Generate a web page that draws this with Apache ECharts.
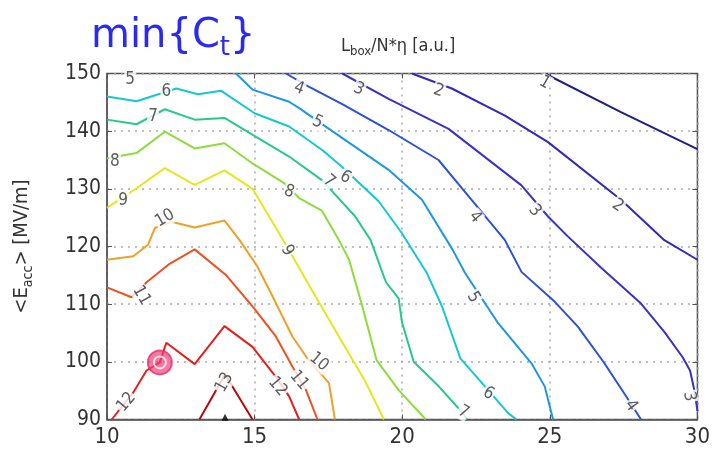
<!DOCTYPE html>
<html>
<head>
    <meta charset="utf-8">
    <title>min Ct contour</title>
    <script src="https://cdn.jsdelivr.net/npm/echarts@6/dist/echarts.min.js"></script>
</head>
<body style="margin:0;background:#fff">
    <div id="main" style="width:713px;height:453px"></div>
    <script type="text/javascript">
        // contour lines, [x, y] pairs (x = 10..30, y = <Eacc> MV/m)
        var c1 = [[24.83, 150], [27.41, 143.3], [30, 136.9]];
        var c2 = [[20.33, 150], [21.68, 147.4], [23.48, 142.7], [24.94, 138.1], [27.41, 128.1], [28.88, 121.1], [30, 117.7]];
        var c3 = [[17.97, 150], [19.54, 145.6], [21.57, 140.4], [24.04, 130.6], [24.94, 125.2], [25.6, 121.8], [26.74, 116.3],
            [28.09, 110.1], [28.88, 105.2], [29.5, 100.8], [29.75, 98.5], [29.9, 95], [30, 91.5]];
        var c4 = [[16.06, 150], [16.85, 147.7], [18.0, 144.6], [19.54, 140.2], [21.23, 135.0], [22.35, 128.1], [23.48, 121.1],
            [24.04, 115.6], [25.17, 110.4], [25.95, 106.1], [26.85, 99.75], [27.64, 93.6], [28.09, 90]];
        var c5 = [[14.37, 150], [14.93, 147.2], [16.17, 145.1], [16.51, 144.0], [17.63, 140.0], [19.54, 133.3], [20.67, 128.1],
            [21.7, 119.5], [22.13, 115.4], [23.25, 106.7], [24.38, 99.75], [24.83, 95.7], [25.11, 90]];
        var c6 = [[10, 146.0], [11.0, 145.2], [12.35, 147.4], [13.08, 146.4], [13.87, 147.0], [15.0, 143.1], [16.17, 140.8],
            [17.3, 136.7], [17.97, 133.8], [19.21, 127.8], [19.99, 122.3], [20.84, 115.35], [21.35, 109.6], [21.97, 100.6],
            [22.81, 95.7], [23.59, 91.1], [23.87, 90]];
        var c7 = [[10, 142.0], [11.0, 141.2], [11.96, 143.8], [12.97, 142.0], [13.98, 142.3], [15.05, 139.0], [16.17, 135.6],
            [17.28, 131.5], [18.41, 125.2], [18.93, 121.1], [19.45, 113.8], [19.88, 111.0], [19.99, 106.9], [20.39, 100.0],
            [21.23, 95.8], [22.02, 91.3], [22.2, 90]];
        var c8 = [[10, 135.3], [11.0, 136.2], [11.96, 139.9], [12.97, 137.0], [13.98, 137.9], [14.93, 134.4], [16.0, 131.0],
            [16.51, 128.4], [17.28, 126.2], [17.86, 121.1], [18.2, 117.7], [18.65, 109.6], [19.13, 100.3], [19.88, 95.1], [20.8, 90]];
        var c9 = [[10, 126.7], [11.0, 130.1], [11.96, 133.6], [12.97, 130.7], [13.98, 133.2], [14.93, 130.0], [16.06, 120.3],
            [17.07, 111.3], [17.97, 103.4], [18.76, 96.5], [19.38, 90]];
        var c10 = [[10, 117.7], [10.89, 118.3], [11.39, 120.3], [11.62, 123.2], [12.18, 124.3], [12.97, 123.3], [13.98, 124.5],
            [14.49, 121.1], [15.1, 116.5], [15.72, 110.2], [16.28, 104.4], [16.8, 100.5], [17.52, 96.3], [17.72, 90]];
        var c11 = [[10, 112.9], [10.83, 111.2], [11.34, 113.8], [12.12, 117.0], [12.97, 119.5], [14.04, 115.0], [14.93, 109.6],
            [15.72, 104.4], [16.28, 99.2], [16.74, 95.1], [17.13, 90]];
        var c12 = [[10.16, 90], [10.89, 94.7], [11.34, 98.5], [11.79, 99.9], [12.01, 103.3], [12.97, 99.6], [13.98, 106.2],
            [14.93, 102.6], [15.72, 97.4], [16.17, 94.0], [16.51, 90]];
        var c13 = [[13.13, 90], [14.0, 97.8], [14.93, 90]];

        var levels = [1, 2, 3, 4, 5, 6, 7, 8, 9, 10, 11, 12, 13];
        var contours = [c1, c2, c3, c4, c5, c6, c7, c8, c9, c10, c11, c12, c13];
        var levelColors = ['#1e1e8c', '#3228be', '#3a32c8', '#2c52dc', '#1e96e6', '#14c8d2', '#28c88c', '#8cdc3c',
            '#e6e61e', '#f0a028', '#f05020', '#e61e1e', '#b40a0a'];

        // inline contour labels: [x, y, level]
        var labelPts = [[24.83, 148.4, 1], [21.23, 147.0, 2], [27.3, 127.1, 2], [18.53, 147.3, 3], [24.49, 126.2, 3],
            [29.72, 94.0, 3], [16.51, 147.4, 4], [22.47, 125.1, 4], [27.75, 92.4, 4], [10.78, 148.9, 5], [17.13, 141.6, 5],
            [22.41, 111.2, 5], [12.01, 146.8, 6], [18.08, 132.0, 6], [22.92, 94.5, 6], [11.56, 142.5, 7], [17.52, 131.3, 7],
            [22.07, 91.3, 7], [10.27, 134.8, 8], [16.17, 129.5, 8], [10.55, 128.0, 9], [16.11, 119.3, 9], [11.96, 124.9, 10],
            [17.18, 100.0, 10], [11.17, 111.5, 11], [16.51, 96.8, 11], [10.66, 93.0, 12], [15.78, 95.7, 12], [13.98, 96.4, 13]];
        var labelAngles = [-30, -20, -35, -25, -50, -80, -20, -50, -55, 0, -25, -60, 0, -30, -30, 0, -40, -30, 0, -20, 0, -60,
            30, -40, -60, -50, 50, -50, 60];

        var optimum = [[11.79, 99.9]];
        var marker = [[14.0, 90.4]];

        var xTicks = { min: 10, max: 30, interval: 5 };
        var yTicks = { min: 90, max: 150, interval: 10 };

        var myChart = echarts.init(document.getElementById('main'), null, { renderer: 'canvas' });

        var tickFont = "'Liberation Sans Narrow', 'DejaVu Sans Condensed', 'Liberation Sans', sans-serif";

        var series = contours.map(function (pts, i) {
            return {
                type: 'line',
                name: 'C' + levels[i],
                data: pts,
                showSymbol: false,
                symbol: 'none',
                silent: true,
                z: 2,
                lineStyle: { color: levelColors[i], width: 2 }
            };
        });

        series.push({
            type: 'scatter',
            data: labelPts.map(function (p, i) {
                return {
                    value: p,
                    label: { rotate: labelAngles[i] }
                };
            }),
            symbolSize: 1,
            itemStyle: { color: 'rgba(0,0,0,0)' },
            z: 5,
            label: {
                show: true,
                position: 'inside',
                formatter: function (p) { return String(p.value[2]); },
                color: '#333',
                fontSize: 17,
                fontFamily: tickFont,
                backgroundColor: '#fff',
                padding: [0, 1]
            }
        });

        series.push({
            type: 'scatter',
            data: optimum,
            symbolSize: 24,
            z: 6,
            itemStyle: { color: 'rgba(240,60,120,0.85)', borderColor: '#e8306a', borderWidth: 2 }
        });
        series.push({
            type: 'scatter',
            data: optimum,
            symbolSize: 12,
            z: 7,
            itemStyle: { color: 'rgba(0,0,0,0)', borderColor: '#fff', borderWidth: 2 }
        });
        series.push({
            type: 'scatter',
            data: marker,
            symbol: 'triangle',
            symbolSize: 7,
            z: 6,
            itemStyle: { color: '#000' }
        });

        var option = {
            animation: false,
            backgroundColor: '#fff',
            title: [{
                text: '{a|min{C}{b|t}}',
                left: 86,
                top: 8,
                textStyle: {
                    color: '#2a2af0',
                    fontSize: 40,
                    fontWeight: 'normal',
                    fontFamily: "'DejaVu Sans', sans-serif",
                    rich: {
                        a: { color: '#2a2af0', fontSize: 40, fontWeight: 'normal', fontFamily: "'DejaVu Sans', sans-serif" },
                        b: { color: '#2a2af0', fontSize: 26, fontWeight: 'normal', fontFamily: "'DejaVu Sans', sans-serif", padding: [22, 0, 0, 0] }
                    }
                }
            }, {
                text: '{n|L}{s|box}{n|/N*η [a.u.]}',
                left: 336,
                top: 29,
                textStyle: {
                    fontWeight: 'normal',
                    rich: {
                        n: { color: '#333', fontSize: 18, fontWeight: 'normal', fontFamily: tickFont },
                        s: { color: '#333', fontSize: 13, fontWeight: 'normal', fontFamily: tickFont, padding: [11, 0, 0, 0] }
                    }
                }
            }],
            grid: {
                left: 107,
                right: 13,
                top: 73.5,
                bottom: 33.5,
                show: true,
                borderColor: '#555',
                borderWidth: 1.5,
                backgroundColor: '#fff'
            },
            xAxis: [{
                type: 'value',
                min: xTicks.min,
                max: xTicks.max,
                interval: xTicks.interval,
                axisLine: { show: true, onZero: false, lineStyle: { color: '#555', width: 1.5 } },
                axisTick: { show: true, inside: true, length: 5, lineStyle: { color: '#555' } },
                axisLabel: { color: '#333', fontSize: 22, fontFamily: tickFont, margin: 7 },
                splitLine: { show: true, lineStyle: { color: '#aaa', type: [2, 5], width: 1.5 } }
            }, {
                type: 'value',
                position: 'top',
                min: xTicks.min,
                max: xTicks.max,
                interval: xTicks.interval,
                axisLine: { show: false },
                axisTick: { show: true, inside: true, length: 5, lineStyle: { color: '#555' } },
                axisLabel: { show: false },
                splitLine: { show: false }
            }],
            yAxis: [{
                type: 'value',
                min: yTicks.min,
                max: yTicks.max,
                interval: yTicks.interval,
                name: '<E{s|acc}> [MV/m]',
                nameLocation: 'middle',
                nameRotate: 90,
                nameGap: 72,
                nameTextStyle: {
                    color: '#333',
                    fontSize: 20,
                    fontFamily: tickFont,
                    rich: {
                        s: { color: '#333', fontSize: 14, fontFamily: tickFont, padding: [12, 0, 0, 0] }
                    }
                },
                axisLine: { show: true, onZero: false, lineStyle: { color: '#555', width: 1.5 } },
                axisTick: { show: true, inside: true, length: 5, lineStyle: { color: '#555' } },
                axisLabel: { color: '#333', fontSize: 21, fontFamily: tickFont, margin: 6 },
                splitLine: { show: true, lineStyle: { color: '#aaa', type: [2, 5], width: 1.5 } }
            }, {
                type: 'value',
                position: 'right',
                min: yTicks.min,
                max: yTicks.max,
                interval: yTicks.interval,
                axisLine: { show: false },
                axisTick: { show: true, inside: true, length: 5, lineStyle: { color: '#555' } },
                axisLabel: { show: false },
                splitLine: { show: false }
            }],
            series: series
        };

        myChart.setOption(option);
    </script>
</body>
</html>
